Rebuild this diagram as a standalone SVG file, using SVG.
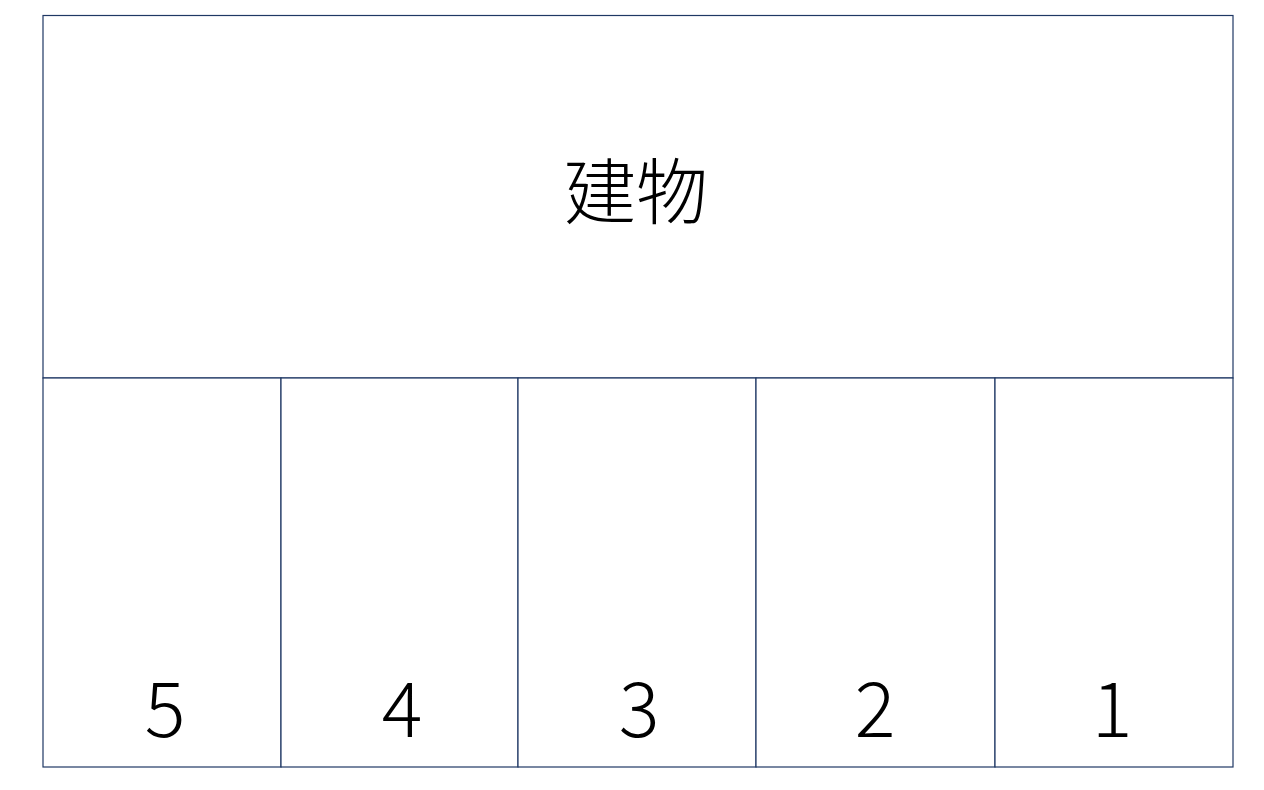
<svg xmlns="http://www.w3.org/2000/svg" width="1264" height="790" viewBox="0 0 1264 790">
<style>
.box{fill:#fff;stroke:#1F3864;stroke-width:1.2}
.t{font-family:"Noto Sans CJK JP","Noto Sans",sans-serif;font-weight:300;fill:#000;text-anchor:middle}
.n{font-size:76px}
</style>
<rect width="1264" height="790" fill="#fff"/>
<g id="building"><rect class="box" x="43" y="15.5" width="1190" height="362.5"/><text class="t" x="636" y="218" font-size="72">建物</text></g>
<g id="slot5"><rect class="box" x="43" y="378" width="238" height="389"/><text class="t n" x="165" y="737">5</text></g>
<g id="slot4"><rect class="box" x="281" y="378" width="237" height="389"/><text class="t n" x="402" y="737">4</text></g>
<g id="slot3"><rect class="box" x="518" y="378" width="238" height="389"/><text class="t n" x="639" y="737">3</text></g>
<g id="slot2"><rect class="box" x="756" y="378" width="239" height="389"/><text class="t n" x="875" y="737">2</text></g>
<g id="slot1"><rect class="box" x="995" y="378" width="238" height="389"/><text class="t n" x="1112" y="737">1</text></g>
<g id="connectors"/>
</svg>
